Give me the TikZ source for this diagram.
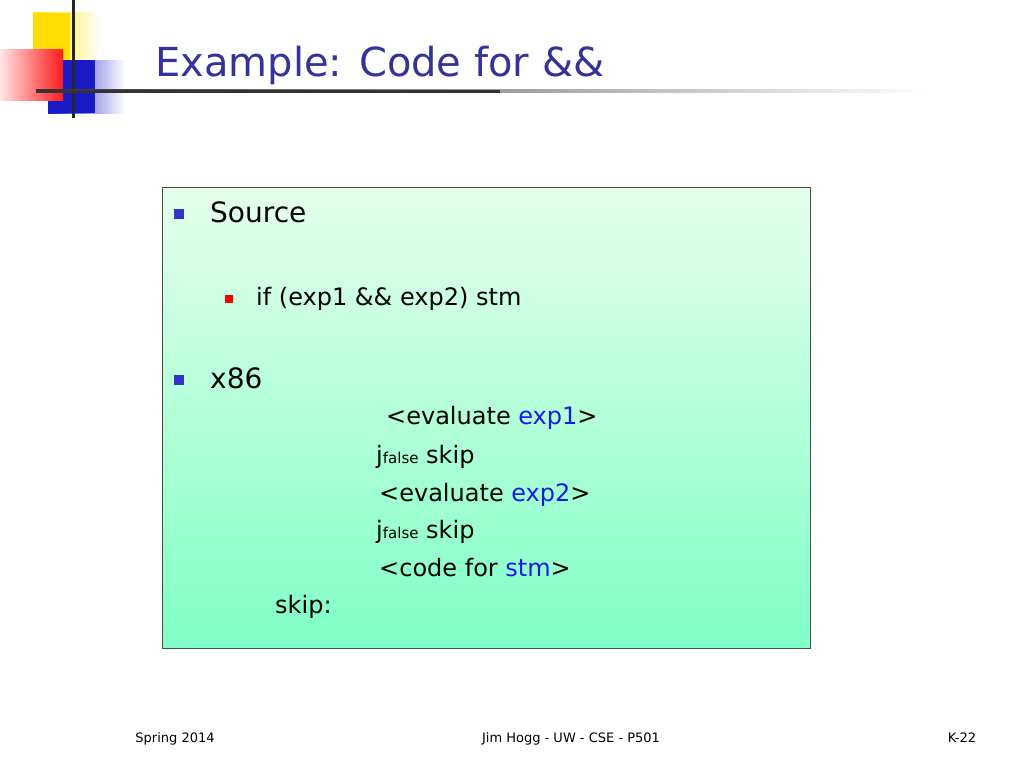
\documentclass[tikz,border=0pt]{standalone}
\usepackage{fontspec}
\setmainfont{DejaVu Sans}
\begin{document}
\begin{tikzpicture}[x=1pt,y=-1pt,
  txt/.style={anchor=base west,inner sep=0pt,font=\fontsize{24}{24}\selectfont},
  big/.style={anchor=base west,inner sep=0pt,font=\fontsize{28}{28}\selectfont},
  foot/.style={anchor=base,inner sep=0pt,font=\fontsize{13}{13}\selectfont}]
\definecolor{titlec}{HTML}{333399}
\definecolor{bul}{HTML}{3333CC}
\definecolor{kw}{HTML}{1A1AE6}
\useasboundingbox (0,0) rectangle (1024,768);
\fill[white] (0,0) rectangle (1024,768);
% logo
\shade[left color=yellow!80!orange, right color=white] (33,13) rectangle (100,60);
\fill[yellow!80!orange] (33,13) rectangle (70,60);
\shade[left color=blue!75!black!90, right color=white] (48,60) rectangle (125,113);
\fill[blue!75!black!90] (48,60) rectangle (95,113);
\shade[left color=red!10, right color=red!90] (0,50) rectangle (63,100);
\draw[line width=3pt,black!85] (73,0) -- (73,118);
\shade[left color=black!80, right color=white, shading angle=90] (36,89.5) rectangle (930,92.5);
\fill[black!80] (36,89.5) rectangle (500,92.5);
\node[anchor=base west,inner sep=0pt,text=titlec,font=\fontsize{40}{40}\selectfont] (title) at (155,77) {Example: Code for \&\&};
% box
\shade[top color=cyan!20!green!10!white, bottom color=cyan!55!green!50] (162,187) rectangle (810,648);
\draw[black!70] (162,187) rectangle (810,648);
\fill[bul] (174,209) rectangle (184,219);
\node[big] (src) at (210,222) {Source};
\fill[red] (225,295) rectangle (233,303);
\node[txt] (ifl) at (256,305) {if (exp1 \&\& exp2) stm};
\fill[bul] (174,375) rectangle (184,385);
\node[big] (x86) at (210,388) {x86};
\node[txt] (l1) at (386,424) {<evaluate \textcolor{kw}{exp1}>};
\node[txt] (l2) at (376,463) {j{\fontsize{15}{15}\selectfont false} skip};
\node[txt] (l3) at (379,501) {<evaluate \textcolor{kw}{exp2}>};
\node[txt] (l4) at (376,538) {j{\fontsize{15}{15}\selectfont false} skip};
\node[txt] (l5) at (379,576) {<code for \textcolor{kw}{stm}>};
\node[txt] (l6) at (275,613) {skip:};
\node[foot] (f1) at (175,742) {Spring 2014};
\node[foot] (f2) at (571,742) {Jim Hogg - UW - CSE - P501};
\node[foot] (f3) at (962,742) {K-22};
\end{tikzpicture}
\end{document}
